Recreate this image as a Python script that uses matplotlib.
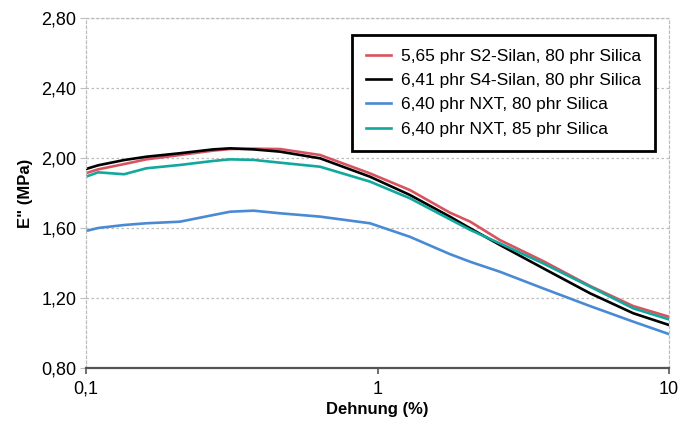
import matplotlib.pyplot as plt
from matplotlib.ticker import FixedLocator, FuncFormatter, NullLocator

plt.rcParams['font.family'] = ['Liberation Sans', 'DejaVu Sans']

strain = [0.100, 0.110, 0.135, 0.161, 0.210, 0.273, 0.312, 0.375, 0.463, 0.635,
          0.942, 1.29, 1.77, 2.08, 2.63, 3.70, 5.36, 7.54, 10.0]

s2_80 = [1.913, 1.935, 1.965, 1.992, 2.017, 2.042, 2.051, 2.053, 2.051, 2.017,
         1.912, 1.817, 1.688, 1.636, 1.531, 1.411, 1.269, 1.154, 1.093]
s4_80 = [1.937, 1.958, 1.988, 2.007, 2.027, 2.049, 2.055, 2.049, 2.036, 1.998,
         1.893, 1.789, 1.665, 1.598, 1.503, 1.370, 1.227, 1.113, 1.046]
nxt_80 = [1.583, 1.600, 1.617, 1.627, 1.636, 1.674, 1.693, 1.699, 1.684, 1.665,
          1.627, 1.550, 1.451, 1.407, 1.350, 1.255, 1.154, 1.065, 0.994]
nxt_85 = [1.893, 1.918, 1.907, 1.941, 1.960, 1.983, 1.992, 1.989, 1.973, 1.950,
          1.865, 1.770, 1.650, 1.589, 1.512, 1.398, 1.265, 1.141, 1.078]

labels = ['5,65 phr S2-Silan, 80 phr Silica',
          '6,41 phr S4-Silan, 80 phr Silica',
          '6,40 phr NXT, 80 phr Silica',
          '6,40 phr NXT, 85 phr Silica']
colors = ['#d9535f', '#000000', '#4a8ad4', '#12a89d']

yticks = [0.80, 1.20, 1.60, 2.00, 2.40, 2.80]
xticks = [0.1, 1, 10]
xticklabels = ['0,1', '1', '10']

fig = plt.figure(figsize=(6.94, 4.26), dpi=100)
ax = fig.add_axes([0.124, 0.136, 0.840, 0.822])

for ys, lab, c in zip([s2_80, s4_80, nxt_80, nxt_85], labels, colors):
    ax.plot(strain, ys, color=c, lw=1.9, label=lab)

ax.set_xscale('log')
ax.set_xlim(0.1, 10)
ax.set_ylim(0.80, 2.80)
ax.xaxis.set_major_locator(FixedLocator(xticks))
ax.xaxis.set_minor_locator(NullLocator())
ax.xaxis.set_major_formatter(FuncFormatter(lambda v, p: xticklabels[xticks.index(v)] if v in xticks else ''))
ax.yaxis.set_major_locator(FixedLocator(yticks))
ax.yaxis.set_major_formatter(FuncFormatter(lambda v, p: f'{v:.2f}'.replace('.', ',')))

ax.grid(axis='y', color='#bdbdbd', ls=(0, (2, 2)), lw=0.9)
for side in ['left', 'right', 'top']:
    ax.spines[side].set_color('#bdbdbd')
    ax.spines[side].set_linestyle((0, (2, 2)))
    ax.spines[side].set_linewidth(0.9)
ax.spines['bottom'].set_color('#555555')
ax.spines['bottom'].set_linewidth(1.6)

ax.tick_params(axis='y', length=4, color='#bdbdbd', labelsize=13, pad=3)
ax.tick_params(axis='x', length=4, color='#555555', width=1.2, labelsize=13, pad=5)

ax.set_xlabel('Dehnung (%)', fontsize=12, fontweight='bold', labelpad=3)
ax.set_ylabel('E" (MPa)', fontsize=12, fontweight='bold', labelpad=6)

leg = ax.legend(loc='upper right', bbox_to_anchor=(0.976, 0.951), borderaxespad=0,
                fontsize=12.5, frameon=True, fancybox=False, framealpha=1,
                handlelength=1.45, handletextpad=0.55, labelspacing=0.52,
                borderpad=0.8)
leg.get_frame().set_edgecolor('black')
leg.get_frame().set_linewidth(2)

fig.savefig('out.png', dpi=100)
